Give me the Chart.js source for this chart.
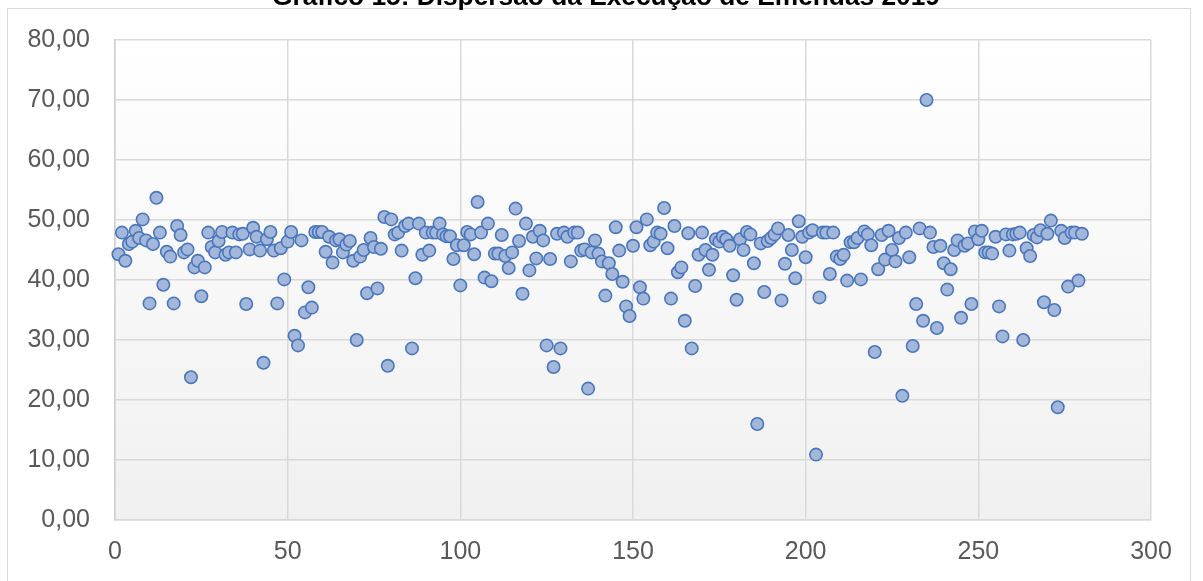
<!DOCTYPE html>
<html lang="pt">
<head>
<meta charset="utf-8">
<title>Gráfico 15: Dispersão da Execução de Emendas 2019</title>
<script src="https://cdn.jsdelivr.net/npm/chart.js@4.4.1/dist/chart.umd.min.js"></script>
<style>
  html, body { margin: 0; padding: 0; background: #fff; overflow: hidden; }
  body { width: 1203px; height: 581px; position: relative; }
  /* outer frame of the chart object */
  #frame {
    position: absolute; left: 7px; top: 8px;
    width: 1184px; height: 620px;
    border: 1px solid #d9d9d9; box-sizing: border-box;
  }
  #chart { position: absolute; left: 0; top: 0; }
</style>
</head>
<body>
<div id="frame"></div>
<canvas id="chart" width="1203" height="600"></canvas>
<script>
/* Title and axis ranges */
const chartTitle = 'Gráfico 15: Dispersão da Execução de Emendas 2019';
const xRange = [0, 300, 50];   /* min, max, step */
const yRange = [0, 80, 10];

/* Execution values, in order (x = 1, 2, 3 ...) */
const values001to040 = [
  44.3, 47.9, 43.2, 46.0, 46.4, 48.2, 47.0, 50.1, 46.6, 36.1,
  46.0, 53.7, 47.9, 39.2, 44.7, 43.9, 36.1, 49.0, 47.5, 44.6,
  45.1, 23.8, 42.1, 43.2, 37.3, 42.1, 47.9, 45.5, 44.6, 46.5,
  48.0, 44.2, 44.6, 47.9, 44.6, 47.6, 47.7, 36.0, 45.1, 48.7
];
const values041to080 = [
  47.2, 44.9, 26.2, 46.8, 48.0, 44.9, 36.1, 45.3, 40.1, 46.4,
  48.0, 30.7, 29.1, 46.6, 34.6, 38.8, 35.4, 48.0, 48.0, 48.0,
  44.7, 47.2, 42.9, 46.6, 46.8, 44.6, 45.9, 46.5, 43.2, 30.0,
  43.9, 45.0, 37.8, 47.0, 45.5, 38.6, 45.2, 50.5, 25.7, 50.1
];
const values081to120 = [
  47.6, 47.9, 44.9, 49.0, 49.4, 28.6, 40.3, 49.4, 44.2, 47.9,
  44.9, 47.9, 47.9, 49.4, 47.6, 47.3, 47.3, 43.5, 45.8, 39.1,
  45.8, 48.0, 47.6, 44.3, 53.0, 47.9, 40.4, 49.4, 39.8, 44.4,
  44.4, 47.5, 44.0, 42.0, 44.6, 51.9, 46.5, 37.7, 49.4, 41.6
];
const values121to160 = [
  47.2, 43.6, 48.2, 46.6, 29.1, 43.5, 25.5, 47.7, 28.6, 47.9,
  47.2, 43.1, 47.9, 47.9, 44.9, 45.1, 21.9, 44.6, 46.6, 44.4,
  43.1, 37.4, 42.8, 41.0, 48.8, 44.9, 39.7, 35.6, 34.0, 45.7,
  48.8, 38.8, 36.9, 50.1, 45.8, 46.4, 47.9, 47.7, 52.0, 45.3
];
const values161to200 = [
  36.9, 49.0, 41.3, 42.1, 33.2, 47.8, 28.6, 39.0, 44.2, 47.9,
  45.0, 41.7, 44.2, 46.8, 46.4, 47.2, 46.8, 45.7, 40.8, 36.7,
  46.8, 45.0, 48.0, 47.6, 42.8, 16.0, 46.1, 38.0, 46.5, 47.0,
  47.6, 48.6, 36.6, 42.7, 47.5, 45.0, 40.3, 49.8, 47.2, 43.8
];
const values201to240 = [
  47.9, 48.3, 10.9, 37.1, 47.9, 47.9, 41.0, 47.9, 43.9, 43.5,
  44.2, 39.9, 46.3, 46.3, 47.0, 40.1, 48.1, 47.6, 45.8, 28.0,
  41.8, 47.5, 43.4, 48.2, 45.0, 43.1, 47.0, 20.7, 47.9, 43.8,
  29.0, 36.0, 48.6, 33.2, 70.0, 47.9, 45.5, 32.0, 45.7, 42.8
];
const values241to280 = [
  38.4, 41.8, 45.0, 46.6, 33.7, 45.7, 46.1, 36.0, 48.1, 46.8,
  48.2, 44.6, 44.6, 44.4, 47.2, 35.6, 30.6, 47.6, 44.9, 47.6,
  47.7, 47.9, 30.0, 45.3, 44.0, 47.5, 47.1, 48.3, 36.3, 47.7,
  49.9, 35.0, 18.8, 48.2, 47.0, 38.9, 47.9, 47.9, 39.9, 47.7
];

const allValues = [].concat(values001to040, values041to080, values081to120,
  values121to160, values161to200, values201to240, values241to280);

/* scatter points: x is simply the row number */
const points = allValues.map((v, i) => ({ x: i + 1, y: v }));

/* Excel-style plot area: white at the top fading to light grey */
const plotAreaFill = {
  id: 'plotAreaFill',
  beforeDraw(chart) {
    const { ctx, chartArea: a } = chart;
    const g = ctx.createLinearGradient(0, a.top, 0, a.bottom);
    g.addColorStop(0, '#ffffff');
    g.addColorStop(1, '#f0f0f0');
    ctx.save();
    ctx.fillStyle = g;
    ctx.fillRect(a.left, a.top, a.right - a.left, a.bottom - a.top);
    ctx.restore();
  }
};

/*
  The source picture was cropped through its title, so only the lower
  part of the letters shows. Chart.js centres its own title on the
  padded box, which is off by ~30px here, so it is drawn by hand.
*/
const croppedTitle = {
  id: 'croppedTitle',
  afterDraw(chart) {
    const ctx = chart.ctx;
    ctx.save();
    ctx.font = 'bold 26.3px "Liberation Sans", Arial, sans-serif';
    ctx.fillStyle = '#000';
    ctx.textAlign = 'center';
    ctx.textBaseline = 'alphabetic';
    ctx.fillText(chartTitle, 606, 5);
    ctx.restore();
  }
};

const tickFont = { family: '"Liberation Sans", Arial, sans-serif', size: 25 };

new Chart(document.getElementById('chart'), {
  type: 'scatter',
  data: {
    datasets: [{
      data: points,
      backgroundColor: '#a3b7da',
      borderColor: '#4a76bb',
      borderWidth: 1.6,
      pointRadius: 6.2,
      pointHoverRadius: 6.2,
      clip: false
    }]
  },
  options: {
    responsive: false,
    animation: false,
    layout: { padding: { left: 0, right: 52, top: 37, bottom: 16 } },
    plugins: {
      legend: { display: false },
      tooltip: { enabled: false },
      title: { display: false }
    },
    scales: {
      x: {
        type: 'linear',
        min: xRange[0], max: xRange[1],
        ticks: { stepSize: xRange[2], color: '#595959', font: tickFont, padding: 17, maxRotation: 0 },
        grid: { color: '#d9d9d9', lineWidth: 1.5, drawTicks: false },
        border: { color: '#d9d9d9', width: 1.5 }
      },
      y: {
        min: yRange[0], max: yRange[1],
        afterFit: (scale) => { scale.width = 115; },
        ticks: {
          stepSize: yRange[2],
          color: '#595959',
          font: tickFont,
          padding: 25,
          callback: (v) => v.toFixed(2).replace('.', ',')
        },
        grid: { color: '#d9d9d9', lineWidth: 1.5, drawTicks: false },
        border: { color: '#d0d0d0', width: 1.5 }
      }
    }
  },
  plugins: [plotAreaFill, croppedTitle]
});
</script>
</body>
</html>
